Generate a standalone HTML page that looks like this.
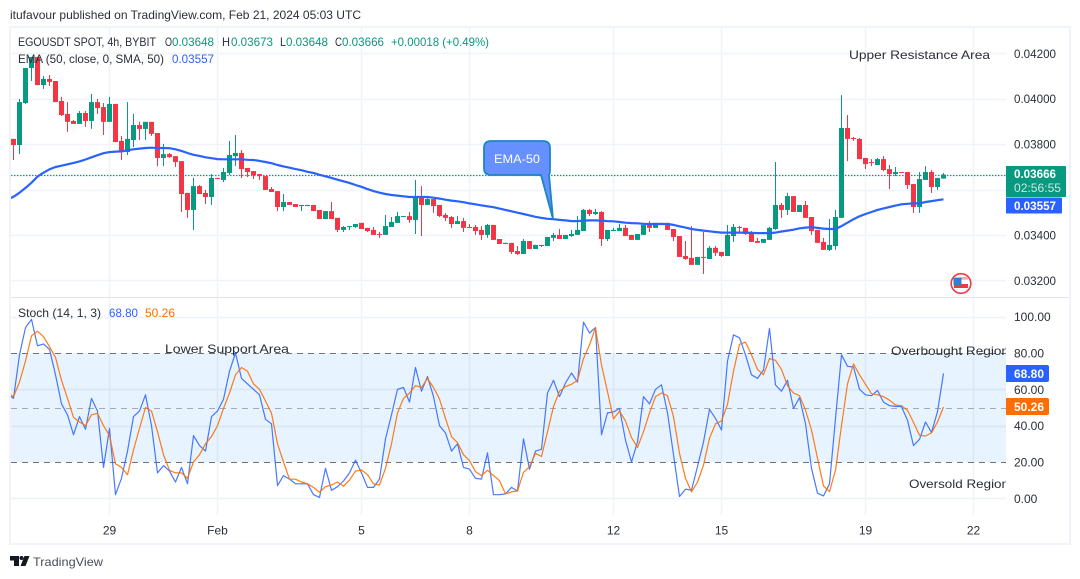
<!DOCTYPE html>
<html lang="en">
<head>
<meta charset="utf-8">
<title>EGOUSDT SPOT 4h chart</title>
<style>
html,body{margin:0;padding:0;background:#fff;width:1080px;height:579px;overflow:hidden}
svg{display:block}
text{font-family:"Liberation Sans",sans-serif;font-size:12px;fill:#2a2e39}
</style>
</head>
<body>
<svg id="chart" xmlns="http://www.w3.org/2000/svg" width="1080" height="579" viewBox="0 0 1080 579">
  <defs>
    <clipPath id="plotClip"><rect x="11" y="28" width="995" height="490"></rect></clipPath>
  </defs>
  <rect x="0" y="0" width="1080" height="579" fill="#ffffff"></rect>
  <text x="10" y="19" font-size="12" textLength="351" lengthAdjust="spacingAndGlyphs">itufavour published on TradingView.com, Feb 21, 2024 05:03 UTC</text>
  <rect x="10" y="27" width="1060" height="517" fill="none" stroke="#f0f3fa" stroke-width="2"></rect>

  <g id="grid"></g>
  <rect id="band" x="11" width="995" fill="#2196f3" fill-opacity="0.11"></rect>
  <g id="bandLines"></g>
  <line x1="11" x2="1069" y1="297.5" y2="297.5" stroke="#e0e3eb" stroke-width="1"></line>

  <g clip-path="url(#plotClip)">
    <line id="lastPriceLine" x1="11" x2="1006" stroke="#089981" stroke-width="1.2" stroke-dasharray="1.5 1.5"></line>
    <g id="candles"></g>
    <polyline id="emaLine" fill="none" stroke="#2962ff" stroke-width="2.2" stroke-linejoin="round"></polyline>
    <polyline id="kLine" fill="none" stroke="#2962ff" stroke-width="1.2" stroke-opacity="0.85" stroke-linejoin="round"></polyline>
    <polyline id="dLine" fill="none" stroke="#ff6d00" stroke-width="1.2" stroke-opacity="0.9" stroke-linejoin="round"></polyline>
  </g>

  <g>
    <path d="M491 141 H543 Q550 141 550 148 V168 Q550 175 549 175 L553 219 L541 175 H491 Q484 175 484 168 V148 Q484 141 491 141 Z" fill="#6690ff" stroke="#1a86c2" stroke-width="1.8"></path>
    <text x="494" y="163" font-size="14" fill="#ffffff" style="fill:#ffffff" textLength="46" lengthAdjust="spacingAndGlyphs">EMA-50</text>
  </g>

  <text x="849" y="59" font-size="14" textLength="141" lengthAdjust="spacingAndGlyphs">Upper Resistance Area</text>
  <text x="165" y="353" font-size="14" textLength="124" lengthAdjust="spacingAndGlyphs">Lower Support Area</text>
  <svg x="0" y="300" width="1006" height="215">
    <text x="891" y="55" font-size="14" textLength="118" lengthAdjust="spacingAndGlyphs">Overbought Region</text>
    <text x="909" y="188" font-size="14" textLength="100" lengthAdjust="spacingAndGlyphs">Oversold Region</text>
  </svg>

  <g>
    <text x="18" y="46" textLength="138" lengthAdjust="spacingAndGlyphs">EGOUSDT SPOT, 4h, BYBIT</text>
    <text x="165" y="46" textLength="7" lengthAdjust="spacingAndGlyphs">O</text>
    <text x="172" y="46" style="fill:#089981" textLength="42" lengthAdjust="spacingAndGlyphs">0.03648</text>
    <text x="222" y="46" textLength="8" lengthAdjust="spacingAndGlyphs">H</text>
    <text x="231" y="46" style="fill:#089981" textLength="42" lengthAdjust="spacingAndGlyphs">0.03673</text>
    <text x="280" y="46" textLength="6" lengthAdjust="spacingAndGlyphs">L</text>
    <text x="286" y="46" style="fill:#089981" textLength="42" lengthAdjust="spacingAndGlyphs">0.03648</text>
    <text x="335" y="46" textLength="7" lengthAdjust="spacingAndGlyphs">C</text>
    <text x="342" y="46" style="fill:#089981" textLength="42" lengthAdjust="spacingAndGlyphs">0.03666</text>
    <text x="391" y="46" style="fill:#089981" textLength="98" lengthAdjust="spacingAndGlyphs">+0.00018 (+0.49%)</text>
    <text x="18" y="63" textLength="146" lengthAdjust="spacingAndGlyphs">EMA (50, close, 0, SMA, 50)</text>
    <text x="172" y="63" style="fill:#2962ff" textLength="42" lengthAdjust="spacingAndGlyphs">0.03557</text>
  </g>
  <g>
    <text x="18" y="317" textLength="83" lengthAdjust="spacingAndGlyphs">Stoch (14, 1, 3)</text>
    <text x="109" y="317" style="fill:#2962ff" textLength="29" lengthAdjust="spacingAndGlyphs">68.80</text>
    <text x="145" y="317" style="fill:#ff6d00" textLength="30" lengthAdjust="spacingAndGlyphs">50.26</text>
  </g>

  <g id="priceAxis"></g>
  <g id="stochAxis"></g>
  <g id="timeAxis"></g>

  <g>
    <path d="M1006 166 H1065 Q1066 166 1066 167 V196 Q1066 197 1065 197 H1006 Z" fill="#089981"></path>
    <text x="1014" y="178" style="fill:#ffffff;font-weight:bold" textLength="42" lengthAdjust="spacingAndGlyphs">0.03666</text>
    <text x="1014" y="192" style="fill:#c8e8e1" textLength="47" lengthAdjust="spacingAndGlyphs">02:56:55</text>
  </g>
  <g>
    <path d="M1006 197.5 H1061 Q1062 197.5 1062 198.5 V212.5 Q1062 213.5 1061 213.5 H1006 Z" fill="#2962ff"></path>
    <text x="1014" y="210" style="fill:#ffffff;font-weight:bold" textLength="42" lengthAdjust="spacingAndGlyphs">0.03557</text>
  </g>
  <g>
    <path d="M1006 365 H1047 Q1049 365 1049 367 V380 Q1049 382 1047 382 H1006 Z" fill="#2962ff"></path>
    <text x="1014" y="378" style="fill:#ffffff;font-weight:bold" textLength="30" lengthAdjust="spacingAndGlyphs">68.80</text>
  </g>
  <g>
    <path d="M1006 398 H1047 Q1049 398 1049 400 V413 Q1049 415 1047 415 H1006 Z" fill="#ff6d00"></path>
    <text x="1014" y="411" style="fill:#ffffff;font-weight:bold" textLength="30" lengthAdjust="spacingAndGlyphs">50.26</text>
  </g>

  <g>
    <circle cx="961" cy="283.5" r="9.8" fill="#ffffff" stroke="#f23645" stroke-width="1.6"></circle>
    <rect x="954" y="277" width="14" height="2.6" fill="#f7a7ae"></rect>
    <rect x="954" y="284" width="14" height="4" fill="#f23645"></rect>
    <rect x="953.5" y="278" width="8" height="7" fill="#2f7fd8"></rect>
  </g>

  <g>
    <path d="M10 556 H19 V566 H14 V560.5 H10 Z M24.5 556 H29.5 L25.5 566 H20.5 Z" fill="#131722"></path>
    <circle cx="21.5" cy="558" r="2" fill="#131722"></circle>
    <text x="33" y="566" font-size="14" textLength="70" lengthAdjust="spacingAndGlyphs" style="fill:#4a4e59">TradingView</text>
  </g>
</svg>
<script>
// Prices are expressed in units of 0.00001.
const openPrices = [3823,3796,3981,4135,4184,4060,4087,4078,3990,3933,3902,3889,3937,3902,3985,3963,3898,3977,3814,3765,3818,3884,3867,3898,3849,3739,3756,3747,3725,3585,3510,3615,3585,3567,3651,3642,3673,3747,3761,3695,3681,3668,3659,3602,3593,3523,3545,3536,3527,3527,3532,3510,3470,3505,3475,3422,3435,3435,3453,3431,3422,3404,3400,3435,3453,3479,3483,3466,3571,3532,3558,3532,3488,3479,3448,3461,3435,3435,3422,3400,3444,3382,3360,3365,3329,3316,3373,3338,3351,3351,3387,3400,3382,3395,3400,3417,3510,3492,3501,3382,3417,3417,3431,3400,3378,3400,3444,3431,3448,3453,3426,3395,3307,3299,3268,3303,3294,3343,3325,3307,3395,3435,3431,3409,3373,3365,3378,3426,3532,3510,3571,3501,3532,3479,3422,3369,3334,3351,3475,3871,3827,3823,3739,3721,3708,3734,3690,3668,3677,3677,3624,3523,3642,3677,3611,3648];
const highPrices = [3823,3999,4135,4184,4184,4100,4104,4078,4008,3985,3906,3946,3946,4021,3999,3981,4008,3977,3836,3985,3933,3898,3898,3898,3849,3801,3761,3747,3725,3585,3651,3620,3598,3668,3651,3695,3814,3840,3774,3695,3681,3668,3659,3611,3593,3580,3545,3536,3532,3532,3532,3510,3505,3545,3475,3439,3439,3448,3453,3431,3435,3413,3488,3479,3501,3483,3501,3642,3615,3571,3558,3532,3497,3483,3483,3475,3448,3444,3439,3448,3444,3382,3365,3365,3351,3382,3373,3356,3356,3391,3409,3426,3400,3422,3483,3514,3514,3514,3505,3422,3431,3448,3444,3400,3404,3444,3461,3453,3453,3453,3426,3395,3373,3439,3303,3413,3351,3351,3325,3444,3448,3439,3431,3417,3387,3382,3435,3721,3541,3585,3571,3532,3549,3479,3422,3387,3470,3510,4016,3928,3832,3827,3739,3734,3739,3747,3708,3699,3677,3677,3624,3677,3703,3686,3651,3673];
const lowPrices = [3730,3756,3977,4078,4060,4043,4056,3985,3924,3854,3889,3889,3876,3867,3933,3840,3898,3809,3730,3752,3787,3818,3818,3836,3703,3703,3739,3699,3501,3475,3422,3580,3536,3532,3646,3633,3664,3703,3651,3655,3646,3642,3598,3589,3505,3505,3532,3523,3505,3527,3505,3470,3470,3470,3413,3413,3422,3431,3426,3413,3400,3387,3400,3435,3453,3479,3453,3404,3395,3532,3497,3479,3461,3431,3448,3413,3431,3400,3378,3387,3378,3360,3360,3316,3312,3316,3338,3338,3347,3351,3373,3382,3382,3391,3400,3417,3483,3488,3351,3373,3417,3417,3395,3378,3378,3400,3413,3431,3448,3422,3373,3303,3290,3268,3268,3228,3294,3307,3303,3307,3369,3413,3400,3369,3365,3365,3378,3422,3475,3488,3501,3501,3475,3400,3365,3334,3329,3334,3475,3725,3814,3734,3690,3703,3708,3681,3602,3659,3673,3602,3497,3497,3642,3585,3598,3648];
const closePrices = [3796,3985,4135,4184,4060,4087,4074,3985,3928,3898,3889,3937,3902,3985,3959,3898,3977,3809,3765,3823,3884,3867,3898,3845,3739,3756,3743,3721,3580,3510,3615,3580,3567,3651,3646,3677,3752,3761,3690,3677,3664,3659,3598,3589,3523,3545,3532,3523,3532,3532,3505,3470,3505,3470,3422,3435,3439,3448,3426,3417,3400,3400,3439,3457,3483,3483,3466,3571,3532,3558,3527,3483,3475,3448,3461,3431,3431,3417,3400,3444,3378,3360,3365,3325,3316,3373,3338,3356,3356,3391,3400,3382,3400,3404,3422,3510,3492,3501,3382,3422,3422,3431,3395,3378,3404,3444,3431,3453,3453,3422,3391,3303,3294,3268,3303,3299,3343,3321,3307,3400,3435,3431,3404,3369,3365,3382,3431,3532,3510,3571,3501,3532,3475,3417,3365,3334,3356,3479,3871,3823,3823,3734,3712,3717,3734,3686,3668,3677,3673,3620,3523,3646,3677,3611,3651,3666];
// Series entries start one bar before the first visible candle.
const emaValues = [3556,3568,3586,3607,3630,3657,3674,3689,3699,3705,3711,3717,3724,3732,3742,3751,3760,3765,3767,3768,3773,3777,3780,3783,3784,3783,3783,3782,3777,3770,3761,3753,3748,3742,3738,3734,3733,3733,3733,3733,3731,3730,3726,3721,3716,3708,3702,3696,3690,3685,3678,3673,3665,3658,3651,3643,3636,3629,3620,3612,3602,3593,3586,3580,3576,3573,3570,3567,3567,3567,3567,3564,3560,3555,3551,3548,3544,3539,3535,3530,3526,3522,3516,3510,3504,3498,3492,3486,3480,3475,3471,3469,3466,3464,3461,3461,3463,3464,3464,3463,3461,3460,3457,3454,3452,3451,3449,3448,3448,3448,3448,3444,3438,3432,3426,3422,3419,3416,3413,3410,3410,3410,3410,3410,3409,3408,3408,3408,3410,3415,3419,3423,3429,3432,3434,3431,3428,3426,3426,3439,3454,3469,3482,3492,3501,3510,3517,3523,3529,3535,3537,3539,3539,3545,3549,3553,3557];
const stochK = [58,55,79,94,98.5,84,85,82,68,52,46,35,45,38,55,48,17,38.5,2,11,26,45,48,57,40,14,18,15,9,17,8,34.5,29,26,45,48,54.5,70,80,66,63,60,57,43.5,41,7,12.5,10.6,8,8,8,2,0.5,16.5,4.4,6.4,9.5,14,21,14,6,6,10.6,32.7,46,60,61,53,72,59,67,56,40,36,26,30,17,16,11,10.6,25,2,2,2.4,6,4,32.7,16,26,27,58,65,56,63.5,69,64,97,91,94,35,47,47.5,49.5,32,20,31,56,52,60,62.5,47,24,1,5,4.5,17.5,31,49,44,37.6,75.6,90,88.4,79,68,66,70.6,93.6,62.4,59,65,49.5,55.4,41,16.5,2.8,1.3,8,44,79,72.7,72.3,60,57,56.5,59.4,53,51,50.6,50.5,43,29,32.5,42,36.3,47.7,68.8];
const stochD = [58,56,64,75.6,89.5,92,89,83.5,77.6,65,55,44.6,42,40,46,46.8,40,34.5,19,17,13,26.6,38.5,50,48,36.7,24,15.4,14,14,11,20,24,30,34,40,49.5,58,68,72,70,63,60,53.6,46.8,30,20,10.5,10.5,9,8,6,3.3,6.4,7.3,9,6.6,10,15,15.6,13,8,7.3,16.5,30,47,55,58,62,61,66,61,54.7,44,34,30.6,24,20.7,14.7,12.5,15.4,12.5,9.7,2.4,3.5,4,14.3,17.4,24.8,23,36.7,50.5,59,61.5,62.8,65,77,84.4,94,73.4,58.7,43.7,48,42.6,33.4,28,36.7,47,56,58,56.5,45,24.8,11,3.5,9,18.3,33,41,42.6,51.7,70,84.8,86,79,71,68,77,76,71,62,58,56.5,48.6,37.6,22,6.8,3.7,15.6,40,63,74,68,62.8,57.6,57,56,54,51.4,51,48.4,41.8,34.7,34.3,36,42,50.26];
const priceTicks = [4200,4000,3800,3600,3400,3200];
const priceTickLabels = ["0.04200","0.04000","0.03800","","0.03400","0.03200"];
const stochTicks = [100,80,60,40,20,0];
const stochTickLabels = ["100.00","80.00","60.00","40.00","20.00","0.00"];
const stochBandLevels = [80,50,20];
const timeTickBars = [16,34,58,76,100,118,142,160];
const timeTickLabels = ["29","Feb","5","8","12","15","19","22"];
const lastPrice = 3666;

const NS = "http://www.w3.org/2000/svg";
function xBar(i){ return 13.5 + 6 * i; }
function yPrice(p){ return 53.3 + (4200 - p) / 4.405; }
function yStoch(v){ return 498.3 - 1.816 * v; }
function mk(tag, parent, attrs){
  const el = document.createElementNS(NS, tag);
  for (const k in attrs) el.setAttribute(k, attrs[k]);
  parent.appendChild(el);
  return el;
}
const $ = id => document.getElementById(id);

// grid
const grid = $("grid");
priceTicks.forEach(p => {
  const y = Math.round(yPrice(p)) + 0.5;
  const el = mk("line", grid, {x1:11, x2:1006, y1:y, y2:y, stroke:"#f0f3fa", "stroke-width":1.5});
  
  
});
stochTicks.filter(v => v !== 80 && v !== 20).forEach(v => {
  const y = Math.round(yStoch(v)) + 0.5;
  const el = mk("line", grid, {x1:11, x2:1006, y1:y, y2:y, stroke:"#eef1f7", "stroke-width":1.5});
  
  
});
timeTickBars.forEach(b => {
  const x = xBar(b) - 0.5 + 0.5;
  const el = mk("line", grid, {x1:x, x2:x, y1:28, y2:515, stroke:"#f0f3fa", "stroke-width":1.5});
  
  
});

// stochastic band
const band = $("band");
band.setAttribute("y", yStoch(80));
band.setAttribute("height", yStoch(20) - yStoch(80));
stochBandLevels.forEach(v => {
  const y = Math.round(yStoch(v)) + 0.5;
  const el = mk("line", $("bandLines"), {x1:11, x2:1006, y1:y, y2:y, stroke: v === 50 ? "#a6a9b2" : "#6f727c", "stroke-width":1, "stroke-dasharray":"6 5"});
  
  
});

// last price line
const lpl = $("lastPriceLine");
lpl.setAttribute("y1", Math.round(yPrice(lastPrice)) + 0.5);
lpl.setAttribute("y2", Math.round(yPrice(lastPrice)) + 0.5);

// candles
const candles = $("candles");
openPrices.forEach((o, i) => {
  const c = closePrices[i], h = highPrices[i], l = lowPrices[i];
  const col = c >= o ? "#089981" : "#f23645";
  const x = xBar(i);
  const g = mk("g", candles, {});
  
  
  const wick = mk("rect", g, {x:x - 0.5, width:1, y:yPrice(h), height:Math.max(0.5, yPrice(l) - yPrice(h)), fill:col});
  
  
  const top = yPrice(Math.max(o, c)), bot = yPrice(Math.min(o, c));
  const body = mk("rect", g, {x:x - 2.5, width:5, y:top, height:Math.max(1, bot - top), fill:col});
  
  
});

// lines (first entry sits one bar left of the first candle)
function pts(vals, yf){ return vals.map((v, i) => xBar(i - 1).toFixed(1) + "," + yf(v).toFixed(1)).join(" "); }
$("emaLine").setAttribute("points", pts(emaValues, yPrice));
$("kLine").setAttribute("points", pts(stochK, yStoch));
$("dLine").setAttribute("points", pts(stochD, yStoch));

// axes
priceTicks.forEach((p, i) => {
  if (!priceTickLabels[i]) return;
  const t = mk("text", $("priceAxis"), {x:1014, y:yPrice(p) + 4.5, textLength:42, lengthAdjust:"spacingAndGlyphs"});
  
  
  t.textContent = priceTickLabels[i];
});
stochTicks.forEach((v, i) => {
  const t = mk("text", $("stochAxis"), {x:1014, y:yStoch(v) + 4.5});
  
  
  t.textContent = stochTickLabels[i];
});
timeTickBars.forEach((b, i) => {
  const t = mk("text", $("timeAxis"), {x:xBar(b), y:534.5, "text-anchor":"middle"});
  
  
  t.textContent = timeTickLabels[i];
});
</script>
</body>
</html>
